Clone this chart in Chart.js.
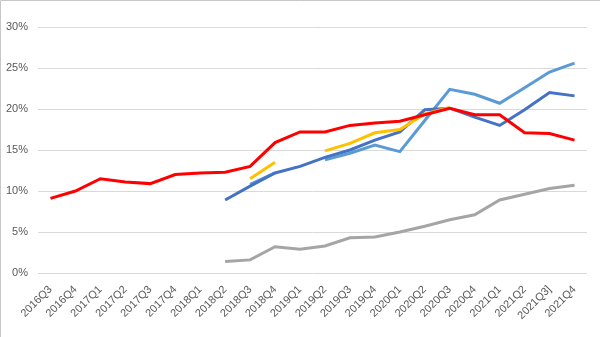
<!DOCTYPE html>
<html>
<head>
<meta charset="utf-8">
<script src="https://cdn.jsdelivr.net/npm/chart.js@4"></script>
<style>
  body { margin: 0; background: #fff; }
  canvas { display: block; }
</style>
</head>
<body>
<canvas id="chart" width="600" height="337"></canvas>
<script>
'use strict';

// Quarter labels along the x axis.
const quarters = ['2016Q3', '2016Q4', '2017Q1', '2017Q2', '2017Q3', '2017Q4', '2018Q1', '2018Q2',
  '2018Q3', '2018Q4', '2019Q1', '2019Q2', '2019Q3', '2019Q4', '2020Q1', '2020Q2', '2020Q3',
  '2020Q4', '2021Q1', '2021Q2', '2021Q3]', '2021Q4'];

// Series values, in percent. null = no value for that quarter.
const redSeries = [9.1, 10.0, 11.5, 11.1, 10.9, 12.0, 12.2, 12.3, 13.0, 15.9, 17.2, 17.2, 18.0, 18.3,
  18.5, 19.3, 20.1, 19.3, 19.3, 17.1, 17.0, 16.2];
const darkBlueSeries = [null, null, null, null, null, null, null, 8.9, 10.6, 12.2, 13.0, 14.1, 15.0,
  16.2, 17.2, 19.9, 20.1, 19.0, 18.0, 19.9, 22.0, 21.6];
const lightBlueSeries = [null, null, null, null, null, null, null, null, 10.8, 12.2, null, 13.8, 14.6,
  15.6, 14.8, 18.6, 22.4, 21.8, 20.7, 22.6, 24.5, 25.6];
const yellowSeries = [null, null, null, null, null, null, null, null, 11.5, 13.5, null, 14.9, 15.8,
  17.1, 17.5, 19.4, 20.2, null, null, null, null, null];
const graySeries = [null, null, null, null, null, null, null, 1.4, 1.6, 3.2, 2.9, 3.3, 4.3, 4.4,
  5.0, 5.7, 6.5, 7.1, 8.9, 9.6, 10.3, 10.7];

// Y axis range and step, in percent.
const yMin = 0;
const yMax = 30;
const yStep = 5;

const labelFont = { family: "'Liberation Sans', Arial, sans-serif", size: 11 };
const labelColor = '#595959';

function lineSet(data, color, order) {
  return {
    data: data,
    borderColor: color,
    backgroundColor: color,
    borderWidth: 3,
    pointRadius: 0,
    tension: 0,
    spanGaps: false,
    order: order,
  };
}

// Thin frame along the top and left edge of the canvas.
const framePlugin = {
  id: 'frame',
  beforeDraw(chart) {
    const ctx = chart.ctx;
    ctx.save();
    ctx.strokeStyle = '#c8c8c8';
    ctx.lineWidth = 1;
    ctx.beginPath();
    ctx.moveTo(0.5, chart.height);
    ctx.lineTo(0.5, 0.5);
    ctx.lineTo(chart.width, 0.5);
    ctx.stroke();
    ctx.restore();
  }
};

const config = {
  type: 'line',
  data: {
    labels: quarters,
    datasets: [
      lineSet(redSeries, '#ff0000', 0),
      lineSet(yellowSeries, '#ffc000', 1),
      lineSet(darkBlueSeries, '#4472c4', 2),
      lineSet(lightBlueSeries, '#5b9bd5', 3),
      lineSet(graySeries, '#a5a5a5', 4),
    ]
  },
  options: {
    responsive: false,
    animation: false,
    layout: {
      padding: { top: 27, right: 13, left: 0, bottom: 0 }
    },
    plugins: {
      legend: { display: false },
      tooltip: { enabled: false },
    },
    scales: {
      x: {
        offset: true,
        grid: { display: false, drawTicks: false },
        border: { display: false },
        ticks: {
          autoSkip: false,
          minRotation: 45,
          maxRotation: 45,
          padding: 10,
          color: labelColor,
          font: labelFont,
        },
        afterFit(scale) {
          scale.height = 64;
        },
      },
      y: {
        min: yMin,
        max: yMax,
        grid: { color: '#d9d9d9', lineWidth: 1, drawTicks: false },
        border: { display: false },
        ticks: {
          stepSize: yStep,
          padding: 10,
          color: labelColor,
          font: labelFont,
          callback: (value) => value + '%',
        },
        afterFit(scale) {
          scale.width = 38;
        },
      },
    },
  },
  plugins: [framePlugin],
};

const lineChart = new Chart(document.getElementById('chart'), config);
</script>
</body>
</html>
